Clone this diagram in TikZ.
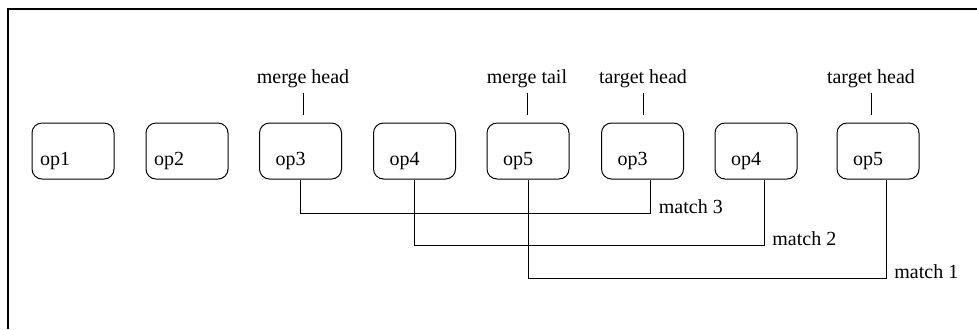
\documentclass[tikz,border=0pt]{standalone}
\usepackage{fontspec}
\setmainfont{Liberation Serif}
\newfontfamily\labelfont{Liberation Serif}
\usetikzlibrary{calc}
\tikzset{opbox/.style = {draw, line width=0.5pt, rounded corners=5pt, minimum height=28pt, inner xsep=8pt, text width=25pt, align=left, text height=14pt, text depth=0pt}}
\tikzset{headlabel/.style = {anchor=base, inner sep=2.5pt}}
\tikzset{matchlabel/.style = {anchor=base west, inner sep=0pt, xshift=4pt}}
\tikzset{link/.style = {line width=0.5pt}}

\begin{document}
\begin{tikzpicture}[x=0.5pt, y=-0.5pt, font=\labelfont]
            \useasboundingbox (0,0) rectangle (977,329);
            % Frame
            \draw[line width=0.7pt] (977,9) -- (8,9) -- (8,329);

            % Operations
            \node[opbox, inner xsep=4pt, text width=33pt] (o1) at (73,151) {op1};
            \node[opbox, inner xsep=4pt, text width=33pt] (o2) at (187,151) {op2};
            \node[opbox] (o3) at (300.5,151) {op3};
            \node[opbox] (o4) at (414.5,151) {op4};
            \node[opbox] (o5) at (528,151) {op5};
            \node[opbox] (o6) at (642.5,151) {op3};
            \node[opbox] (o7) at (756,151) {op4};
            \node[opbox] (o8) at (878,151) {op5};

            % Heads and tails
            \node[headlabel] (mh) at (303,83) {merge head};
            \node[headlabel] (mt) at (527,83) {merge tail};
            \node[headlabel] (th1) at (643,83) {target head};
            \node[headlabel] (th2) at (871,83) {target head};
            \draw[link] (mh.south) -- ([yshift=4pt]mh.south |- o3.north);
            \draw[link] (mt.south) -- ([yshift=4pt]mt.south |- o5.north);
            \draw[link] (th1.south) -- ([yshift=4pt]th1.south |- o6.north);
            \draw[link] (th2.south) -- ([yshift=4pt]th2.south |- o8.north);

            % Matches
            \coordinate (c3) at ([xshift=4pt]o6.south |- 0,213);
            \coordinate (c2) at ([xshift=4pt]o7.south |- 0,245);
            \coordinate (c1) at ([xshift=4pt]o8.south |- 0,278);
            \draw[link] (o3.south) |- (c3) -- ([xshift=4pt]o6.south);
            \draw[link] (o4.south) |- (c2) -- ([xshift=4pt]o7.south);
            \draw[link] (o5.south) |- (c1) -- ([xshift=4pt]o8.south);
            \node[matchlabel] (m3) at (c3) {match 3};
            \node[matchlabel] (m2) at (c2) {match 2};
            \node[matchlabel] (m1) at (c1) {match 1};
        \end{tikzpicture}
\end{document}
